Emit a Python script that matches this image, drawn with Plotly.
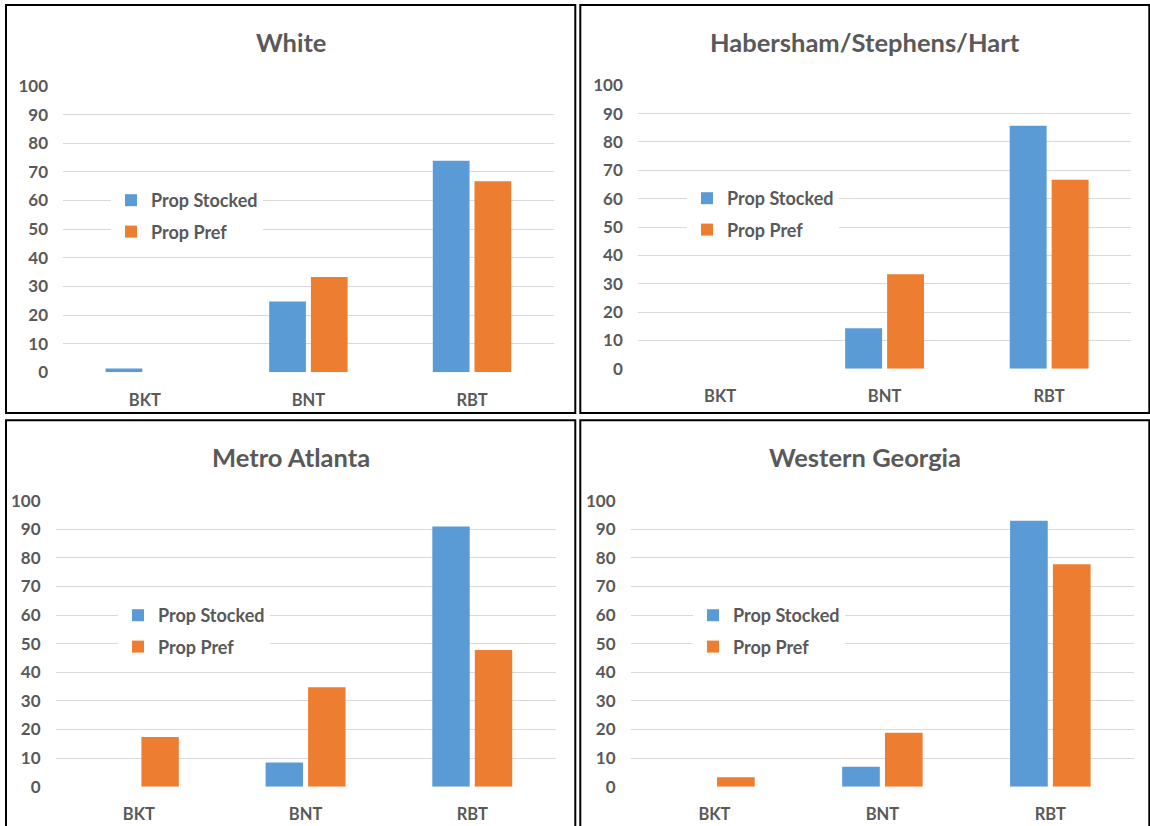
import plotly.graph_objects as go

# Species categories on the x axis
categories = ["BKT", "BNT", "RBT"]

# Region names (one panel each)
regions = ["White", "Habersham/Stephens/Hart", "Metro Atlanta", "Western Georgia"]

# Percent of stocked fish by species, per region
stocked_white = [1.3, 24.7, 73.9]
stocked_habersham = [0, 14.3, 85.7]
stocked_metro = [0, 8.5, 91.0]
stocked_western = [0, 7.0, 93.0]

# Percent of anglers preferring each species, per region
pref_white = [0, 33.3, 66.7]
pref_habersham = [0, 33.3, 66.7]
pref_metro = [17.4, 34.8, 47.8]
pref_western = [3.3, 18.9, 77.8]

y_ticks = [0, 10, 20, 30, 40, 50, 60, 70, 80, 90, 100]

stocked = [stocked_white, stocked_habersham, stocked_metro, stocked_western]
pref = [pref_white, pref_habersham, pref_metro, pref_western]

W, H = 1150, 826
BLUE = "#5B9BD5"
ORANGE = "#ED7D31"
TEXT = "#595959"
GRID = "#D9D9D9"
FONT = "Lato, Roboto, sans-serif"

# Pixel layout of each panel: frame box, plot area, legend anchor
panels = [
    dict(box=(6, 5, 575.3, 413), plot=(63, 86, 553.8, 372.3), leg=(111, 182)),
    dict(box=(580.3, 5, 1149.3, 413), plot=(637.8, 85.3, 1131.4, 368.7), leg=(687, 180)),
    dict(box=(6, 420.2, 575.3, 834), plot=(55.5, 500.7, 555.6, 786.7), leg=(118, 597)),
    dict(box=(580.3, 420.2, 1149.3, 834), plot=(630.5, 500.7, 1134.3, 786.7), leg=(693, 597)),
]


def px_x(v):
    return v / W


def px_y(v):
    return 1 - v / H


fig = go.Figure()
shapes = []
annotations = []

for i, (name, p) in enumerate(zip(regions, panels)):
    n = "" if i == 0 else str(i + 1)
    leg = "legend" + n
    xa, ya = "x" + n, "y" + n
    fig.add_trace(go.Bar(
        x=categories, y=stocked[i], name="Prop Stocked",
        marker=dict(color=BLUE, line=dict(width=0)),
        xaxis=xa, yaxis=ya, legend=leg, legendgroup=f"s{i}",
    ))
    fig.add_trace(go.Bar(
        x=categories, y=pref[i], name="Prop Pref",
        marker=dict(color=ORANGE, line=dict(width=0)),
        xaxis=xa, yaxis=ya, legend=leg, legendgroup=f"p{i}",
    ))

    x0, y0, x1, y1 = p["plot"]
    fig.update_layout(**{
        "xaxis" + n: dict(
            domain=[px_x(x0), px_x(x1)], anchor=ya, automargin=False,
            showgrid=False, showline=False, zeroline=False, ticks="",
            tickfont=dict(family=FONT, size=16.5, color=TEXT, weight="bold"),
            ticklabelstandoff=16, fixedrange=True,
        ),
        "yaxis" + n: dict(
            domain=[px_y(y1), px_y(y0)], anchor=xa, range=[0, 100],
            automargin=False, tickvals=y_ticks,
            showgrid=True, gridcolor=GRID, gridwidth=1.2,
            showline=False, zeroline=False, ticks="",
            tickfont=dict(family=FONT, size=17, color=TEXT, weight="bold"),
            ticklabelstandoff=14, fixedrange=True,
        ),
        leg: dict(
            x=px_x(p["leg"][0]), y=px_y(p["leg"][1]),
            xanchor="left", yanchor="top", bgcolor="white",
            font=dict(family=FONT, size=18, color=TEXT, weight="bold"),
            tracegroupgap=5, itemclick=False, itemdoubleclick=False,
        ),
    })

    bx0, by0, bx1, by1 = p["box"]
    shapes.append(dict(
        type="rect", xref="paper", yref="paper",
        x0=px_x(bx0), x1=px_x(bx1), y0=px_y(by1), y1=px_y(by0),
        line=dict(color="black", width=2), fillcolor="rgba(0,0,0,0)",
    ))
    annotations.append(dict(
        text=name, xref="paper", yref="paper",
        x=px_x((bx0 + bx1) / 2), y=px_y(by0 + 36.5),
        xanchor="center", yanchor="middle", showarrow=False,
        font=dict(family=FONT, size=25.5, color=TEXT, weight="bold"),
    ))

fig.update_layout(
    width=W, height=H,
    margin=dict(l=0, r=0, t=0, b=0, autoexpand=False),
    paper_bgcolor="white", plot_bgcolor="white",
    barmode="group", bargap=0.49, bargroupgap=0.12,
    shapes=shapes, annotations=annotations,
)

fig.write_html("out.html")
